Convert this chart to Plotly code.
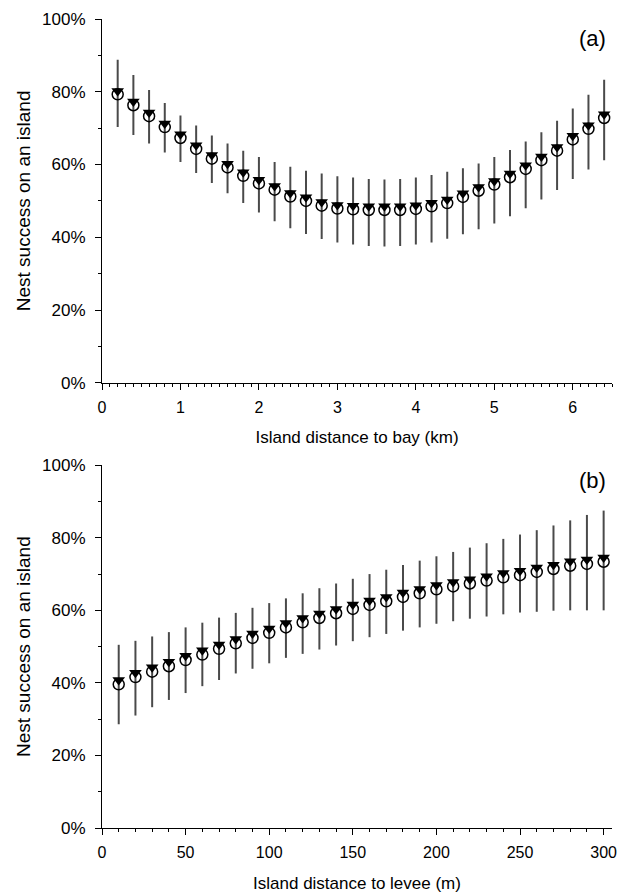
import plotly.graph_objects as go

# ---- Panel (a): distance to bay (km) ----
bay_km = [0.2, 0.4, 0.6, 0.8, 1.0, 1.2, 1.4, 1.6, 1.8, 2.0, 2.2, 2.4, 2.6, 2.8, 3.0, 3.2,
          3.4, 3.6, 3.8, 4.0, 4.2, 4.4, 4.6, 4.8, 5.0, 5.2, 5.4, 5.6, 5.8, 6.0, 6.2, 6.4]
bay_filled = [80.2, 77.3, 74.3, 71.3, 68.3, 65.3, 62.6, 60.2, 57.9, 55.8, 54.1, 52.2, 51.0, 49.7, 48.9, 48.7,
              48.5, 48.5, 48.5, 48.8, 49.5, 50.4, 52.1, 53.8, 55.5, 57.5, 59.8, 62.2, 64.8, 67.9, 70.8, 73.8]
bay_open = [79.3, 76.3, 73.3, 70.3, 67.3, 64.3, 61.6, 59.2, 56.9, 54.8, 53.1, 51.2, 50.0, 48.7, 47.9, 47.7,
            47.5, 47.5, 47.5, 47.8, 48.5, 49.4, 51.1, 52.8, 54.5, 56.5, 58.8, 61.2, 63.8, 66.9, 69.8, 72.8]
bay_upper = [88.8, 84.6, 80.5, 76.9, 73.5, 70.7, 68.0, 65.8, 63.8, 62.1, 60.7, 59.4, 58.3, 57.5, 56.8, 56.4,
             56.0, 55.9, 56.0, 56.4, 57.1, 58.0, 59.0, 60.3, 62.1, 64.0, 66.3, 68.9, 72.0, 75.4, 79.2, 83.3]
bay_lower = [70.3, 68.1, 65.8, 63.3, 60.7, 57.7, 54.9, 52.1, 49.4, 46.8, 44.4, 42.5, 40.9, 39.5, 38.6, 38.0,
             37.6, 37.5, 37.6, 38.0, 38.6, 39.6, 40.8, 42.2, 43.8, 45.8, 48.0, 50.4, 53.0, 56.0, 58.6, 61.2]

# ---- Panel (b): distance to levee (m) ----
levee_m = [10, 20, 30, 40, 50, 60, 70, 80, 90, 100, 110, 120, 130, 140, 150,
           160, 170, 180, 190, 200, 210, 220, 230, 240, 250, 260, 270, 280, 290, 300]
levee_filled = [40.8, 42.8, 44.3, 45.8, 47.5, 49.0, 50.6, 52.1, 53.6, 55.0, 56.5, 57.9, 59.1, 60.4, 61.6,
                62.7, 63.7, 64.9, 65.9, 67.0, 67.8, 68.6, 69.4, 70.3, 70.9, 71.8, 72.6, 73.5, 74.0, 74.6]
levee_open = [39.6, 41.6, 43.1, 44.6, 46.3, 47.8, 49.4, 50.9, 52.4, 53.8, 55.3, 56.7, 57.9, 59.2, 60.4,
              61.5, 62.5, 63.7, 64.7, 65.8, 66.6, 67.4, 68.2, 69.1, 69.7, 70.6, 71.4, 72.3, 72.8, 73.4]
levee_upper = [50.5, 51.6, 52.8, 54.0, 55.3, 56.6, 58.0, 59.3, 60.7, 62.0, 63.3, 64.7, 66.1, 67.4, 68.7,
               70.0, 71.2, 72.5, 73.7, 74.9, 76.1, 77.3, 78.5, 79.7, 80.9, 82.1, 83.4, 84.8, 86.3, 87.5]
levee_lower = [28.6, 31.0, 33.3, 35.3, 37.2, 39.1, 40.8, 42.6, 43.9, 45.4, 46.9, 48.0, 49.2, 50.3, 51.5,
               52.6, 53.5, 54.4, 55.3, 56.3, 57.0, 57.7, 58.3, 58.9, 59.4, 59.6, 59.9, 60.0, 60.0, 60.0]

y_ticks = [0, 20, 40, 60, 80, 100]
y_ticklabels = ["0%", "20%", "40%", "60%", "80%", "100%"]

FONT = "Liberation Sans, Arial, sans-serif"
NARROW = "Liberation Sans Narrow, Arial Narrow, Liberation Sans, sans-serif"
ERR_COLOR = "#4a4a4a"

fig = go.Figure()


def add_panel(x, filled, opn, upper, lower, xa, ya):
    fig.add_trace(go.Scatter(
        x=x, y=filled, mode="markers", xaxis=xa, yaxis=ya,
        marker=dict(size=1, color="rgba(0,0,0,0)"),
        error_y=dict(type="data", symmetric=False,
                     array=[u - f for u, f in zip(upper, filled)],
                     arrayminus=[f - l for f, l in zip(filled, lower)],
                     color=ERR_COLOR, thickness=2, width=0),
        showlegend=False, hoverinfo="skip"))
    fig.add_trace(go.Scatter(
        x=x, y=opn, mode="markers", xaxis=xa, yaxis=ya,
        marker=dict(symbol="circle-open", size=11, color="black", line=dict(width=1.5, color="black")),
        showlegend=False))
    fig.add_trace(go.Scatter(
        x=x, y=filled, mode="markers", xaxis=xa, yaxis=ya,
        marker=dict(symbol="triangle-down", size=11, color="black"),
        showlegend=False))


add_panel(bay_km, bay_filled, bay_open, bay_upper, bay_lower, "x", "y")
add_panel(levee_m, levee_filled, levee_open, levee_upper, levee_lower, "x2", "y2")

axis_common = dict(showline=True, linecolor="black", linewidth=1, ticks="outside",
                   ticklen=6, tickcolor="black", tickwidth=1, showgrid=False, zeroline=False,
                   automargin=False)

xa_common = dict(axis_common, ticklabelstandoff=4, tickfont=dict(family=FONT, size=16, color="black"))
ya_common = dict(axis_common, ticklabelstandoff=6, tickfont=dict(family=FONT, size=17, color="black"))

fig.update_layout(
    width=619, height=886,
    paper_bgcolor="white", plot_bgcolor="white",
    margin=dict(l=94, r=15, t=11, b=65.5),
    font=dict(family=FONT, color="black"),
    xaxis=dict(**xa_common, domain=[0, 1], anchor="y", range=[0, 6.5], dtick=1, tick0=0,
               minor=dict(dtick=0.1, ticks="outside", ticklen=3, tickcolor="black", showgrid=False),
               title=dict(text="Island distance to bay (km)", font=dict(family=FONT, size=17), standoff=16)),
    yaxis=dict(**ya_common, domain=[0.5503, 1], anchor="x", range=[0, 100],
               tickvals=y_ticks, ticktext=y_ticklabels,
               minor=dict(dtick=10, tick0=0, ticks="outside", ticklen=3, tickcolor="black", showgrid=False),
               title=dict(text="Nest success on an island", font=dict(family=NARROW, size=19), standoff=6)),
    xaxis2=dict(**xa_common, domain=[0, 1], anchor="y2", range=[0, 305], dtick=50, tick0=0,
                minor=dict(dtick=10, ticks="outside", ticklen=3, tickcolor="black", showgrid=False),
                title=dict(text="Island distance to levee (m)", font=dict(family=FONT, size=17), standoff=16)),
    yaxis2=dict(**ya_common, domain=[0, 0.4484], anchor="x2", range=[0, 100],
                tickvals=y_ticks, ticktext=y_ticklabels,
                minor=dict(dtick=10, tick0=0, ticks="outside", ticklen=3, tickcolor="black", showgrid=False),
                title=dict(text="Nest success on an island", font=dict(family=NARROW, size=19), standoff=6)),
    annotations=[
        dict(text="(a)", x=0.992, y=0.9765, xref="paper", yref="paper", showarrow=False,
             xanchor="right", yanchor="middle", font=dict(family=FONT, size=22, color="black")),
        dict(text="(b)", x=0.992, y=0.4293, xref="paper", yref="paper", showarrow=False,
             xanchor="right", yanchor="middle", font=dict(family=FONT, size=22, color="black")),
    ],
)

fig.write_html("out.html")
